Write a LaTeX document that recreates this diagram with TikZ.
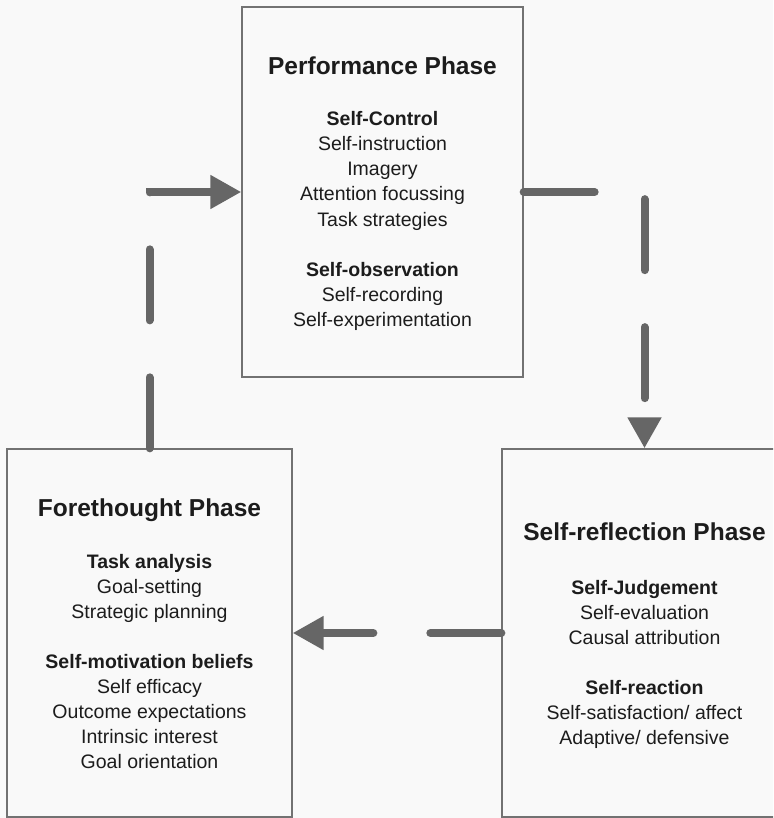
\documentclass[tikz,border=0pt]{standalone}
\usepackage{fontspec}
\setmainfont{Liberation Sans}
\usetikzlibrary{arrows.meta}
\definecolor{bgc}{HTML}{F9F9F9}
\definecolor{txt}{HTML}{1C1C1C}
\definecolor{arr}{HTML}{666666}
\definecolor{brd}{HTML}{727272}
\tikzset{
  phasebox/.style={draw=brd, line width=1.3pt, fill=bgc, rectangle, inner sep=0pt, minimum width=#1},
  ttl/.style={anchor=base, inner sep=0pt, text=txt, font=\fontsize{24.5}{29}\selectfont\bfseries},
  hd/.style={anchor=base, inner sep=0pt, text=txt, font=\fontsize{19.5}{25}\selectfont\bfseries},
  itm/.style={anchor=base, inner sep=0pt, text=txt, font=\fontsize{19.5}{25}\selectfont},
  flow/.style={draw=arr, line width=8pt, line cap=round, dash pattern=on 71pt off 57pt,
    -{Triangle[length=31pt,width=32pt]}}
}
\begin{document}
\begin{tikzpicture}[x=1pt,y=-1pt]
\useasboundingbox (0,0) rectangle (773,818);
\fill[bgc] (0,0) rectangle (773,818);
\clip (0,0) rectangle (773,818);

% boxes
\node[phasebox=281pt, minimum height=370pt] (perf) at (382.5,192) {};
\node[phasebox=285pt, minimum height=368pt] (fore) at (149.5,633) {};
\node[phasebox=285pt, minimum height=368pt] (refl) at (644.5,633) {};

% Performance phase
\node[ttl] (pt) at (382.5,75) {Performance Phase};
\node[hd]  (p1) at (382.5,126) {Self-Control};
\node[itm] (p2) at (382.5,151) {Self-instruction};
\node[itm] (p3) at (382.5,176) {Imagery};
\node[itm] (p4) at (382.5,201) {Attention focussing};
\node[itm] (p5) at (382.5,226) {Task strategies};
\node[hd]  (p6) at (382.5,276) {Self-observation};
\node[itm] (p7) at (382.5,301) {Self-recording};
\node[itm] (p8) at (382.5,326) {Self-experimentation};

% Forethought phase
\node[ttl] (ft) at (149.5,516) {Forethought Phase};
\node[hd]  (f1) at (149.5,568) {Task analysis};
\node[itm] (f2) at (149.5,593) {Goal-setting};
\node[itm] (f3) at (149.5,618) {Strategic planning};
\node[hd]  (f4) at (149.5,668) {Self-motivation beliefs};
\node[itm] (f5) at (149.5,693) {Self efficacy};
\node[itm] (f6) at (149.5,718) {Outcome expectations};
\node[itm] (f7) at (149.5,743) {Intrinsic interest};
\node[itm] (f8) at (149.5,768) {Goal orientation};

% Self-reflection phase
\node[ttl] (rt) at (644.5,540) {Self-reflection Phase};
\node[hd]  (r1) at (644.5,594) {Self-Judgement};
\node[itm] (r2) at (644.5,619) {Self-evaluation};
\node[itm] (r3) at (644.5,644) {Causal attribution};
\node[hd]  (r4) at (644.5,694) {Self-reaction};
\node[itm] (r5) at (644.5,719) {Self-satisfaction/ affect};
\node[itm] (r6) at (644.5,744) {Adaptive/ defensive};

% connectors
\draw[flow] (fore.north) |- (perf.west);
\draw[flow] (perf.east) -| (refl.north);
\draw[flow] (refl.west) -- (fore.east);
\end{tikzpicture}
\end{document}
